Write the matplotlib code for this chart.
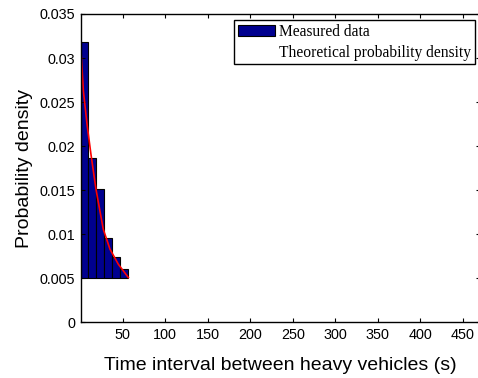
import numpy as np
import matplotlib
matplotlib.use('agg')
import matplotlib.pyplot as plt
from matplotlib.patches import Patch
from matplotlib.lines import Line2D

# histogram of measured headways (bins)
bin_edges = [1.0, 9.5, 19.0, 28.5, 38.0, 47.5, 57.0]
bar_heights = [0.03185, 0.01859, 0.01517, 0.00960, 0.00739, 0.00607]
baseline = 0.005

# theoretical density curve
curve_x = [0.0, 4.0, 8.3, 12.9, 18.8, 27.4, 35.3, 45.1, 56.9]
curve_y = [0.03273, 0.02628, 0.02249, 0.01908, 0.01510, 0.01054, 0.00827, 0.00656, 0.00505]

xticks = [50, 100, 150, 200, 250, 300, 350, 400, 450]
yticks = [0, 0.005, 0.01, 0.015, 0.02, 0.025, 0.03, 0.035]
ytick_labels = ['0', '0.005', '0.01', '0.015', '0.02', '0.025', '0.03', '0.035']

plt.rcParams['font.family'] = ['Liberation Sans', 'DejaVu Sans']

fig = plt.figure(figsize=(4.78, 3.78), dpi=100)
ax = fig.add_axes([80.8 / 478, 56 / 378, (480 - 80.8) / 478, 308 / 378])

lefts = np.array(bin_edges[:-1])
widths = np.diff(bin_edges)
tops = np.array(bar_heights)
ax.bar(lefts, tops - baseline, width=widths, bottom=baseline, align='edge',
       color='#00008F', edgecolor='black', linewidth=0.8)
ax.plot(curve_x, curve_y, color='red', linewidth=1.2)

ax.set_xlim(1, 470)
ax.set_ylim(0, 0.035)
ax.set_xticks(xticks)
ax.set_yticks(yticks)
ax.set_yticklabels(ytick_labels)
ax.tick_params(direction='in', top=True, right=True, length=3, labelsize=10.4,
               colors='black', width=0.8, pad=4)
for s in ax.spines.values():
    s.set_linewidth(1.0)

ax.set_xlabel('Time interval between heavy vehicles (s)', fontsize=14, labelpad=11)
ax.set_ylabel('Probability density', fontsize=14, labelpad=5)

handles = [Patch(facecolor='#00008F', edgecolor='black', linewidth=0.8),
           Line2D([], [], color='none')]
leg = ax.legend(handles, ['Measured data', 'Theoretical probability density'],
                loc='upper right', bbox_to_anchor=(475 / 478, 1 - 20 / 378),
                bbox_transform=fig.transFigure, fancybox=False, framealpha=1,
                edgecolor='black', borderpad=0.25, handlelength=2.4,
                handletextpad=0.25, labelspacing=0.3, borderaxespad=0,
                prop={'family': 'Liberation Serif', 'size': 11.2})
leg.get_frame().set_linewidth(1.0)

plt.savefig('out.png', dpi=100)
plt.close()
